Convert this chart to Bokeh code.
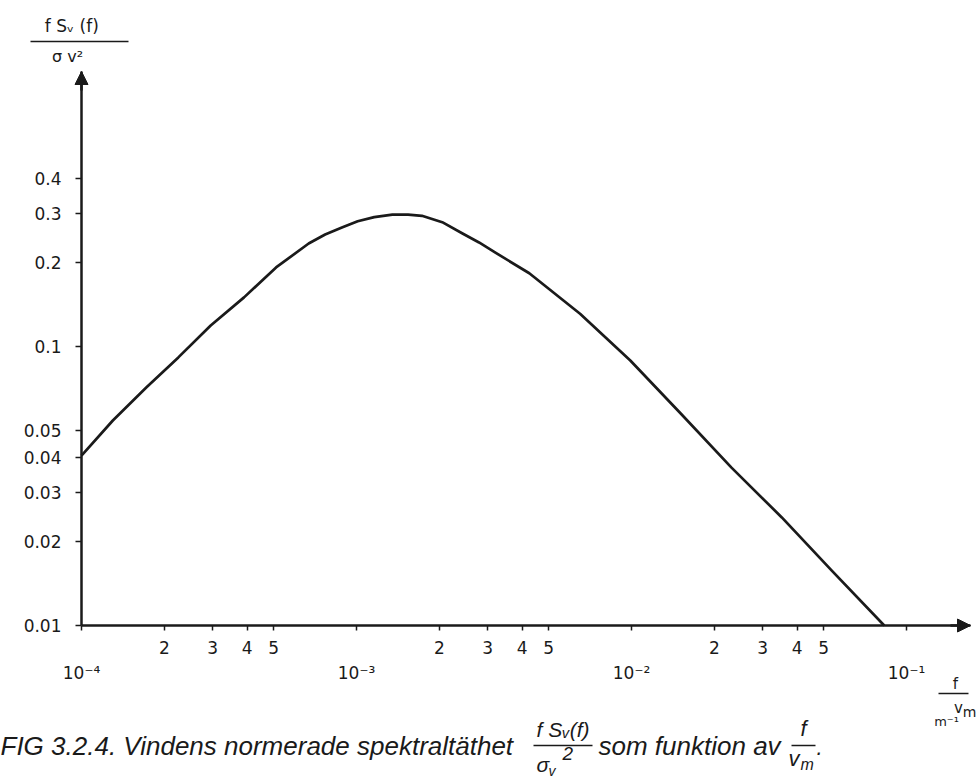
import numpy as np
from bokeh.plotting import figure
from bokeh.models import (Range1d, FixedTicker, LogAxis, Label, Arrow, NormalHead)
from bokeh.embed import file_html
from bokeh.resources import INLINE

# ---------------- data ----------------
freq = [1.0e-4, 1.30e-4, 1.72e-4, 2.25e-4, 2.95e-4, 3.90e-4, 5.1e-4, 6.7e-4,
        7.69e-4, 8.85e-4, 1.01e-3, 1.16e-3, 1.35e-3, 1.54e-3, 1.73e-3, 2.05e-3,
        2.43e-3, 2.79e-3, 3.2e-3, 4.25e-3, 6.5e-3, 9.9e-3, 1.51e-2, 2.31e-2,
        3.52e-2, 5.36e-2, 8.3e-2]
spec = [0.0406, 0.0543, 0.0713, 0.0914, 0.119, 0.150, 0.192, 0.234,
        0.252, 0.267, 0.281, 0.291, 0.297, 0.297, 0.294, 0.279,
        0.254, 0.236, 0.217, 0.183, 0.131, 0.0891, 0.0575, 0.0368,
        0.0244, 0.0157, 0.0100]

y_ticks = [0.01, 0.02, 0.03, 0.04, 0.05, 0.1, 0.2, 0.3, 0.4]
y_tick_labels = ["0.01", "0.02", "0.03", "0.04", "0.05", "0.1", "0.2", "0.3", "0.4"]

x_decades = [1e-4, 1e-3, 1e-2, 1e-1]
x_decade_labels = ["10\u207b\u2074", "10\u207b\u00b3", "10\u207b\u00b2", "10\u207b\u00b9"]
x_minor_ticks = [2e-4, 3e-4, 4e-4, 5e-4, 2e-3, 3e-3, 4e-3, 5e-3, 2e-2, 3e-2, 4e-2, 5e-2]
x_minor_labels = ["2", "3", "4", "5", "2", "3", "4", "5", "2", "3", "4", "5"]

caption = "FIG 3.2.4. Vindens normerade spektraltäthet"

# ---------------- layout ----------------
W, H = 978, 777
OX, OY = 81, 625          # pixel position of the axes origin (1e-4, 0.01)
XPD, YPD = 275.0, 279.0   # pixels per decade
X_END_PX, Y_END_PX = 970, 71


def dx(px):
    return 10 ** (-4 + (px - OX) / XPD)


def dy(py):
    return 10 ** (-2 + (OY - py) / YPD)


INK = "#1a1a1a"
FONT = "DejaVu Sans"
CFONT = "Liberation Sans"

p = figure(width=W, height=H, x_axis_type="log", y_axis_type="log",
           x_range=Range1d(dx(0), dx(W)), y_range=Range1d(dy(H), dy(0)),
           output_backend="svg", toolbar_location=None, min_border=0)
p.grid.visible = False
p.outline_line_color = None
p.background_fill_color = "white"
p.border_fill_color = "white"

# curve
p.line(freq, spec, line_width=2.7, line_color=INK, line_join="round")

# y axis
ya = p.yaxis[0]
ya.fixed_location = 1e-4
ya.bounds = (0.01, dy(Y_END_PX))
ya.ticker = FixedTicker(ticks=y_ticks)
ya.major_label_overrides = dict(zip(y_ticks, y_tick_labels))
ya.axis_line_width = 2.5
ya.axis_line_color = INK
ya.major_tick_out = 6
ya.major_tick_in = 0
ya.major_tick_line_width = 1.5
ya.major_tick_line_color = INK
ya.minor_tick_out = 0
ya.minor_tick_in = 0
ya.major_label_standoff = 14
ya.major_label_text_font = FONT
ya.major_label_text_font_size = "17px"
ya.major_label_text_color = INK

# x axis (minor labelled ticks)
xa = p.xaxis[0]
xa.fixed_location = 0.01
xa.bounds = (1e-4, dx(X_END_PX))
all_x = sorted(x_decades + x_minor_ticks)
lab = dict(zip(x_minor_ticks, x_minor_labels))
lab.update({d: "" for d in x_decades})
xa.ticker = FixedTicker(ticks=all_x)
xa.major_label_overrides = lab
xa.axis_line_width = 2.5
xa.axis_line_color = INK
xa.major_tick_out = 5
xa.major_tick_in = 0
xa.major_tick_line_width = 1.5
xa.major_tick_line_color = INK
xa.minor_tick_out = 0
xa.minor_tick_in = 0
xa.major_label_standoff = 10
xa.major_label_text_font = FONT
xa.major_label_text_font_size = "17px"
xa.major_label_text_color = INK

# x axis (decade labels)
xa2 = LogAxis(ticker=FixedTicker(ticks=x_decades),
              major_label_overrides=dict(zip(x_decades, x_decade_labels)),
              fixed_location=0.01, bounds=(1e-4, dx(X_END_PX)))
xa2.axis_line_color = None
xa2.major_tick_out = 0
xa2.major_tick_in = 0
xa2.minor_tick_out = 0
xa2.minor_tick_in = 0
xa2.major_label_standoff = 37
xa2.major_label_text_font = FONT
xa2.major_label_text_font_size = "17px"
xa2.major_label_text_color = INK
p.add_layout(xa2, "below")

# axis arrow heads
p.add_layout(Arrow(x_start=1e-4, y_start=dy(90), x_end=1e-4, y_end=dy(Y_END_PX),
                   line_width=2.5, line_color=INK,
                   end=NormalHead(size=13, fill_color=INK, line_color=INK)))
p.add_layout(Arrow(x_start=dx(950), y_start=0.01, x_end=dx(X_END_PX), y_end=0.01,
                   line_width=2.5, line_color=INK,
                   end=NormalHead(size=13, fill_color=INK, line_color=INK)))


def lbl(px, py, text, size="16px", font=FONT, style="normal", align="left"):
    p.add_layout(Label(x=dx(px), y=dy(py), text=text, text_font=font,
                       text_font_size=size, text_font_style=style,
                       text_align=align, text_baseline="middle", text_color=INK))


def bar(a, b, py, w=1.5):
    p.add_layout(Arrow(x_start=dx(a), y_start=dy(py), x_end=dx(b), y_end=dy(py),
                       end=None, line_width=w, line_color=INK))


# y-axis title (fraction)
lbl(74, 25, "f  S\u1d65 (f)", size="17px", align="center")
bar(30, 128, 41)
lbl(67, 56, "\u03c3 v\u00b2", size="16px", align="center")

# x-axis title (fraction)
lbl(955, 683, "f", size="15px", align="center")
bar(938, 968, 693)
lbl(958, 707, "v", size="15px", align="center")
lbl(969, 711, "m", size="14px", align="center")
lbl(946, 721, "m\u207b\u00b9", size="13px", align="center")

# caption
lbl(0, 745, caption, size="26px", font=CFONT, style="italic")
lbl(536, 729, "f S\u1d65(f)", size="21px", font=CFONT, style="italic")
bar(533, 592, 745)
lbl(562, 753, "2", size="19px", font=CFONT, style="italic")
lbl(536, 764, "\u03c3", size="21px", font=CFONT, style="italic")
lbl(548, 770, "v", size="14px", font=CFONT, style="italic")
lbl(598, 745, "som funktion av", size="26px", font=CFONT, style="italic")
lbl(803, 728, "f", size="22px", font=CFONT, style="italic", align="center")
bar(791, 815, 745)
lbl(788, 758, "v", size="22px", font=CFONT, style="italic")
lbl(800, 764, "m", size="16px", font=CFONT, style="italic")
lbl(816, 747, ".", size="22px", font=CFONT, style="italic")

open("out.html", "w").write(file_html(p, INLINE))
